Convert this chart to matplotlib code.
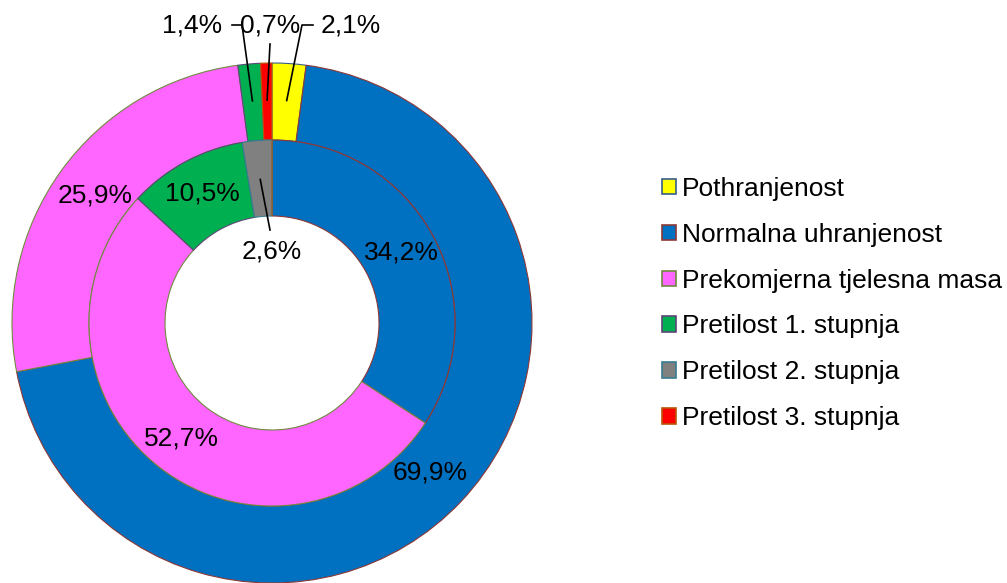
import numpy as np
import matplotlib
matplotlib.use('Agg')
import matplotlib.pyplot as plt
from matplotlib.patches import Patch

plt.rcParams['font.family'] = ['Liberation Sans', 'DejaVu Sans']

categories = ['Pothranjenost', 'Normalna uhranjenost', 'Prekomjerna tjelesna masa',
              'Pretilost 1. stupnja', 'Pretilost 2. stupnja', 'Pretilost 3. stupnja']
outer_values = [2.1, 69.9, 25.9, 1.4, 0.0, 0.7]
inner_values = [0.0, 34.2, 52.7, 10.5, 2.6, 0.0]

face_colors = ['#FFFF00', '#0070C0', '#FF66FF', '#00B050', '#808080', '#FF0000']
edge_colors = ['#385D8A', '#8C3836', '#71893F', '#5C4776', '#357D91', '#B65708']

FS = 19
W, H = 1007, 583
cx, cy = 272, 323  # pie centre in pixels from top-left
half = 262

fig = plt.figure(figsize=(W / 100, H / 100), dpi=100)
ax = fig.add_axes([(cx - half) / W, (H - cy - half) / H, 2 * half / W, 2 * half / H])

r_out, r_mid, r_hole = 260, 183, 107


def draw_ring(values, radius, width):
    wedges, _ = ax.pie(values, radius=radius, startangle=90, counterclock=False,
                       colors=face_colors,
                       wedgeprops=dict(width=width, linewidth=0.8))
    for w, ec in zip(wedges, edge_colors):
        w.set_edgecolor(ec)
    return wedges


draw_ring(outer_values, r_out, r_out - r_mid)
draw_ring(inner_values, r_mid, r_mid - r_hole)


def mid_angles(values):
    total = sum(values)
    cum = np.cumsum([0] + list(values))
    # clockwise from top, in degrees (0 = up)
    return [(cum[i] + values[i] / 2) / total * 360 for i in range(len(values))]


def polar(theta, r):
    t = np.radians(theta)
    return r * np.sin(t), r * np.cos(t)


def fmt(v):
    return ('%.1f%%' % v).replace('.', ',')


out_ang = mid_angles(outer_values)
in_ang = mid_angles(inner_values)

# labels inside the large slices
for i in [1, 2]:
    x, y = polar(out_ang[i], 218)
    ax.text(x, y, fmt(outer_values[i]), ha='center', va='center', fontsize=FS)
for i in [1, 2, 3]:
    x, y = polar(in_ang[i], 147)
    ax.text(x, y, fmt(inner_values[i]), ha='center', va='center', fontsize=FS)

# small slices with leader lines
label_y = cy - 25
small = [
    # index, text x (px), elbow points (px)
    (3, 192, [(232, 25), (242, 25)]),
    (5, 270, [(270, 44)]),
    (0, 351, [(313, 25), (302, 25)]),
]
for i, tx, pts in small:
    ax.text(tx - cx, label_y, fmt(outer_values[i]), ha='center', va='center', fontsize=FS)
    ex, ey = polar(out_ang[i], 223)
    xs = [p[0] - cx for p in pts] + [ex]
    ys = [cy - p[1] for p in pts] + [ey]
    ax.plot(xs, ys, color='black', linewidth=1.2, clip_on=False)

# inner 2.6% label
gx, gy = polar(in_ang[4], 144)
ax.text(0, cy - 251, fmt(inner_values[4]), ha='center', va='center', fontsize=FS)
ax.plot([gx, 270 - cx], [gy, cy - 230], color='black', linewidth=1.2, clip_on=False)

ax.set_xlim(-half, half)
ax.set_ylim(-half, half)
ax.set_aspect('equal')
ax.axis('off')

handles = [Patch(facecolor=fc, edgecolor=ec, linewidth=1.2) for fc, ec in zip(face_colors, edge_colors)]
fig.legend(handles, categories, loc='center left', bbox_to_anchor=(662 / W, (H - 303.5) / H),
           frameon=False, fontsize=FS, handlelength=0.52, handleheight=0.52,
           handletextpad=0.22, labelspacing=0.83, borderpad=0, borderaxespad=0)

fig.savefig('out.png', dpi=100)
